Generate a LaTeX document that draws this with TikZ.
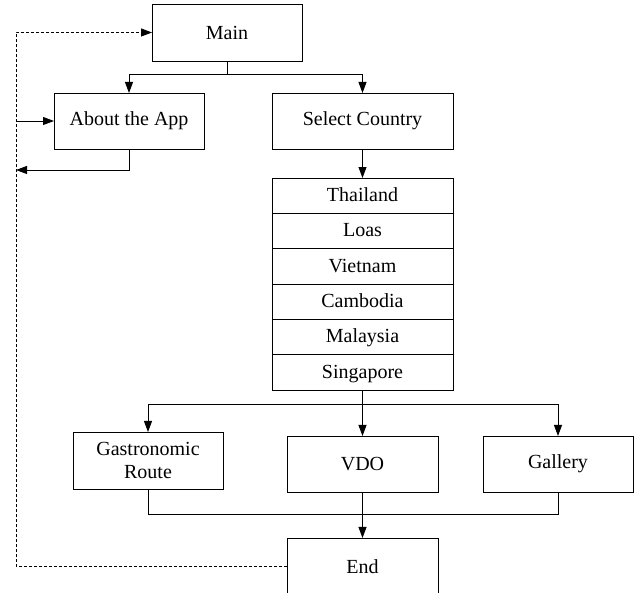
\documentclass[tikz,border=0pt]{standalone}
\usepackage{fontspec}
\setmainfont{Liberation Serif}
\usetikzlibrary{arrows.meta}
\begin{document}
\begin{tikzpicture}[x=1pt,y=-1pt,
  box/.style={draw=black, line width=0.9pt, rectangle, inner sep=0pt, outer sep=0pt, font=\fontsize{20}{23}\selectfont, align=center},
  row/.style={box, minimum width=181pt, minimum height=35.33pt, text height=16pt, text depth=4pt},
  conn/.style={draw=black, line width=0.9pt},
  arr/.style={conn, -{Triangle[length=11pt,width=8pt]}},
  dashline/.style={conn, dash pattern=on 3pt off 2pt}]
\useasboundingbox (0,0) rectangle (641,593);
% boxes
\node[box, minimum width=150pt, minimum height=57pt] (main) at (227,32.5) {Main};
\node[box, minimum width=150pt, minimum height=56pt] (about) at (129,121) {About the App};
\node[box, minimum width=181pt, minimum height=56pt] (select) at (362.5,121) {Select Country};
\node[row] (thai) at (362.5,195.67) {Thailand};
\node[row, anchor=north] (laos) at (thai.south) {Loas};
\node[row, anchor=north] (viet) at (laos.south) {Vietnam};
\node[row, anchor=north] (camb) at (viet.south) {Cambodia};
\node[row, anchor=north] (mala) at (camb.south) {Malaysia};
\node[row, anchor=north] (sing) at (mala.south) {Singapore};
\node[box, minimum width=150pt, minimum height=57pt] (gastro) at (148,460.5) {Gastronomic\\Route};
\node[box, minimum width=151pt, minimum height=56pt] (vdo) at (362.5,464) {VDO};
\node[box, minimum width=150pt, minimum height=56pt] (gallery) at (558,464) {Gallery};
\node[box, minimum width=151pt, minimum height=57pt] (end) at (362.5,566.5) {End};
% junction coordinates
\coordinate (mj) at (227,74);
\coordinate (sj) at (362.5,404);
\coordinate (ej) at (362.5,514);
\coordinate (dl) at (16,566.5);
\coordinate (ain) at (16,121);
\coordinate (aout) at (16,170);
% connectors
\draw[conn] (main.south) -- (mj);
\draw[arr] (mj) -| (about.north);
\draw[arr] (mj) -| (select.north);
\draw[arr] (select.south) -- (thai.north);
\draw[arr] (sing.south) -- (vdo.north);
\draw[arr] (sj) -| (gastro.north);
\draw[arr] (sj) -| (gallery.north);
\draw[conn] (gastro.south) |- (ej);
\draw[conn] (gallery.south) |- (ej);
\draw[arr] (vdo.south) -- (end.north);
\draw[arr] (ain) -- (about.west);
\draw[arr] (about.south) |- (aout);
\draw[dashline, -{Triangle[length=11pt,width=8pt]}] (end.west) -- (dl) |- (main.west);
\end{tikzpicture}
\end{document}
